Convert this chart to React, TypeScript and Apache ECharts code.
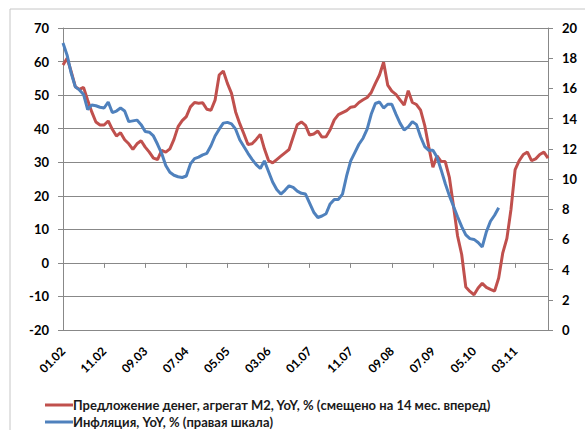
import { useEffect, useRef } from "react";
import * as echarts from "echarts";

// Monthly categories 01.02 ... 11.11
const startYear = 2002;
const monthCount = 119;
const categories: string[] = [];
for (let i = 0; i < monthCount; i++) {
  const m = (i % 12) + 1;
  const y = (startYear + Math.floor(i / 12)) % 100;
  categories.push(String(m).padStart(2, "0") + "." + String(y).padStart(2, "0"));
}

const labelStep = 10;
const leftTicks = { min: -20, max: 70, interval: 10 };
const rightTicks = { min: 0, max: 20, interval: 2 };

const seriesNames = [
  "Предложение денег, агрегат M2, YoY, % (смещено на 14 мес. вперед)",
  "Инфляция, YoY, % (правая шкала)",
];

// M2 money supply, YoY %, shifted 14 months forward (left axis)
const m2Values: (number | null)[] = [
  59, 61, 57, 52.5, 51.7, 52.3, 48.5, 45, 42, 41.1,
  41.1, 42.3, 39.8, 37.8, 38.8, 36.7, 35.5, 33.8, 35.5, 36.4,
  34.5, 33.0, 31.2, 30.8, 33.5, 33.0, 34.0, 36.8, 40.6, 42.4,
  43.6, 46.5, 47.8, 47.6, 47.7, 45.8, 45.5, 48.5, 56.0, 57.2,
  53.5, 50.5, 45, 41.5, 38.5, 35.3, 35.5, 36.8, 38.3, 34,
  30.5, 29.8, 30.8, 31.8, 32.8, 33.8, 37.5, 41.2, 42.0, 41.0,
  38.1, 38.4, 39.3, 37.5, 37.6, 39.7, 42.6, 44.2, 44.8, 45.4,
  46.4, 46.6, 47.8, 48.6, 49.3, 50.8, 53.5, 56, 59.8, 53.0,
  51.2, 50.2, 48.6, 47.0, 51.3, 47.8, 47.2, 45.5, 41, 34.5,
  28.5, 31.9, 30.2, 30.2, 25.5, 17, 8, 2.5, -7.2, -8.5,
  -9.5, -7.5, -6.1, -7.3, -7.9, -8.4, -4.5, 3, 7.3, 16,
  27.8, 30.5, 32.3, 33.0, 30.5, 31.0, 32.3, 33.0, 31.2,
];

// Inflation, YoY % (right axis)
const cpiValues: (number | null)[] = [
  19.0, 18.2, 17.0, 16.1, 15.9, 15.6, 14.6, 14.9, 14.85, 14.75,
  14.7, 15.1, 14.4, 14.5, 14.7, 14.5, 13.8, 13.85, 13.9, 13.6,
  13.15, 13.1, 12.85, 12.3, 11.7, 10.9, 10.45, 10.25, 10.15, 10.1,
  10.2, 11.0, 11.35, 11.45, 11.6, 11.7, 12.2, 12.85, 13.3, 13.7,
  13.75, 13.65, 13.3, 12.6, 12.15, 11.7, 11.3, 10.95, 10.7, 11.2,
  10.5, 9.8, 9.3, 9.0, 9.25, 9.55, 9.45, 9.2, 9.05, 9.0,
  8.4, 7.8, 7.45, 7.55, 7.7, 8.35, 8.65, 8.65, 9.0, 10.2,
  11.2, 11.75, 12.3, 12.7, 13.3, 14.3, 15.0, 15.1, 14.7, 14.95,
  14.95, 14.3, 13.7, 13.25, 13.45, 13.8, 13.6, 12.8, 12.15, 11.9,
  11.9, 11.45, 10.6, 9.7, 8.9, 8.2, 7.5, 6.85, 6.3, 6.05,
  6.0, 5.8, 5.5, 6.5, 7.2, 7.6, 8.1, null, null, null,
  null, null, null, null, null, null, null, null, null,
];

const RED = "#C0504D";
const BLUE = "#4F81BD";
const GRID = "#888888";
const FONT = "Lato, 'Open Sans', 'DejaVu Sans', sans-serif";

export default function App() {
  const ref = useRef<HTMLDivElement>(null);

  useEffect(() => {
    document.body.style.margin = "0";
    if (!ref.current) return;
    const chart = echarts.init(ref.current, null, { renderer: "svg" });
    chart.setOption({
      animation: false,
      backgroundColor: "#ffffff",
      textStyle: { fontFamily: FONT },
      graphic: [
        {
          type: "rect",
          shape: { x: 10, y: 9, width: 640, height: 480 },
          style: { fill: "none", stroke: "#c6c6c6", lineWidth: 1 },
          silent: true,
          z: 0,
        },
      ],
      grid: { left: 63, right: 37, top: 28, bottom: 100 },
      legend: {
        orient: "vertical",
        left: 40,
        top: 393,
        height: 80,
        itemWidth: 28,
        itemHeight: 3,
        itemGap: 3,
        icon: "rect",
        data: seriesNames,
        textStyle: {
          fontFamily: FONT,
          fontWeight: "bold",
          fontSize: 13,
          lineHeight: 14,
          color: "#1a1a1a",
          padding: [0, 0, 0, -5],
        },
      },
      xAxis: {
        type: "category",
        data: categories,
        boundaryGap: false,
        axisLine: { show: true, lineStyle: { color: GRID, width: 1 } },
        axisTick: {
          show: true,
          interval: (idx: number) => idx % labelStep === 0,
          length: 5,
          lineStyle: { color: GRID },
        },
        axisLabel: {
          show: true,
          interval: (idx: number) => idx % labelStep === 0,
          rotate: 45,
          hideOverlap: false,
          fontFamily: FONT,
          fontWeight: "bold",
          fontSize: 12,
          color: "#000",
          margin: 19,
        },
        splitLine: { show: false },
      },
      yAxis: [
        {
          type: "value",
          min: leftTicks.min,
          max: leftTicks.max,
          interval: leftTicks.interval,
          axisLine: { show: true, lineStyle: { color: GRID, width: 1 } },
          axisTick: { show: true, length: 5, lineStyle: { color: GRID } },
          axisLabel: {
            fontFamily: FONT,
            fontWeight: "bold",
            fontSize: 13,
            color: "#000",
            margin: 14,
          },
          splitLine: { show: true, lineStyle: { color: GRID, width: 1 } },
        },
        {
          type: "value",
          min: rightTicks.min,
          max: rightTicks.max,
          interval: rightTicks.interval,
          position: "right",
          axisLine: { show: true, lineStyle: { color: GRID, width: 1 } },
          axisTick: { show: true, length: 5, lineStyle: { color: GRID } },
          axisLabel: {
            fontFamily: FONT,
            fontWeight: "bold",
            fontSize: 13,
            color: "#000",
            margin: 14,
          },
          splitLine: { show: false },
        },
      ],
      series: [
        {
          name: seriesNames[0],
          type: "line",
          data: m2Values,
          yAxisIndex: 0,
          showSymbol: false,
          symbol: "none",
          color: RED,
          lineStyle: { color: RED, width: 3 },
          z: 3,
        },
        {
          name: seriesNames[1],
          type: "line",
          data: cpiValues,
          yAxisIndex: 1,
          showSymbol: false,
          symbol: "none",
          color: BLUE,
          lineStyle: { color: BLUE, width: 3 },
          z: 4,
        },
      ],
    });
    return () => chart.dispose();
  }, []);

  return <div ref={ref} style={{ width: 585, height: 430 }} />;
}
